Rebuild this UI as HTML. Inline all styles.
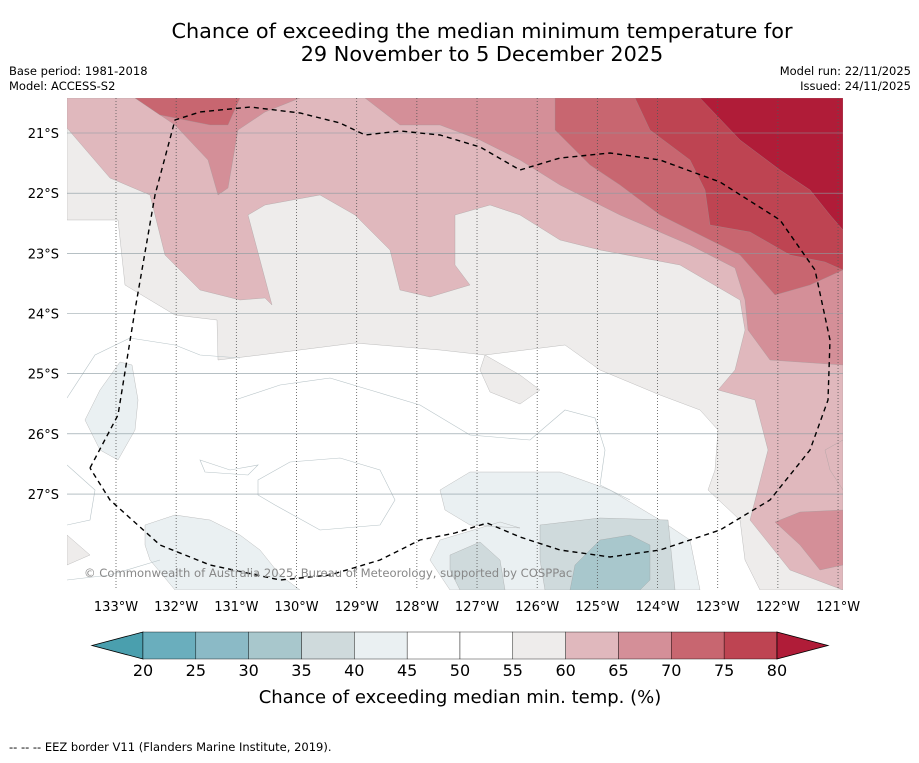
<!DOCTYPE html>
<html><head><meta charset="utf-8">
<style>
body{margin:0;background:#fff;font-family:"Liberation Sans","DejaVu Sans",sans-serif;}
svg text{font-family:"DejaVu Sans","Liberation Sans",sans-serif;}
</style></head>
<body>
<svg id="chart" width="919" height="758" viewBox="0 0 919 758" xmlns="http://www.w3.org/2000/svg">
<rect width="919" height="758" fill="#fff"/>
<text x="482" y="38" font-size="20.8" text-anchor="middle" fill="#000">Chance of exceeding the median minimum temperature for</text>
<text x="482" y="61" font-size="20.8" text-anchor="middle" fill="#000">29 November to 5 December 2025</text>
<text x="9" y="75" font-size="11.5">Base period: 1981-2018</text>
<text x="9" y="90" font-size="11.5">Model: ACCESS-S2</text>
<text x="911" y="75" font-size="11.5" text-anchor="end">Model run: 22/11/2025</text>
<text x="911" y="90" font-size="11.5" text-anchor="end">Issued: 24/11/2025</text>
<defs><clipPath id="mapclip"><rect x="67" y="98" width="776" height="492"/></clipPath></defs>
<g id="map" clip-path="url(#mapclip)">
<rect x="67" y="98" width="776" height="492" fill="#fff"/>
<g id="fills"></g>
<g id="lines" fill="none" stroke="#b8c4c8" stroke-width="0.6">
<path d="M67,398 L95,355 L130,338 L175,345 L200,355 L240,358"/>
<path d="M67,465 L95,490 L90,520 L67,525"/>
<path d="M235,400 L280,385 L330,378 L370,390 L420,405 L470,435 L530,440 L565,410 L595,418 L605,450 L600,485 L630,500"/>
<path d="M258,480 L290,462 L340,458 L380,470 L395,500 L380,525 L320,530 L275,505 L258,495 Z"/>
<path d="M200,460 L230,470 L258,465 L248,475 L205,472 Z"/>
<path d="M67,580 L110,575 L160,560"/>
</g>
<g id="grid"></g>
<path id="eez" fill="none" stroke="#000" stroke-width="1.4" stroke-dasharray="5,4"/>
<text x="84" y="577" font-size="11.6" fill="#888">© Commonwealth of Australia 2025, Bureau of Meteorology, supported by COSPPac</text>
</g>
<g id="axes"></g>
<g id="colorbar"></g>
<text x="460" y="703" font-size="18" text-anchor="middle">Chance of exceeding median min. temp. (%)</text>
<text x="9" y="751" font-size="11.5">--  --  -- EEZ border V11 (Flanders Marine Institute, 2019).</text>
</svg>
<script>
const lonTicks=[133,132,131,130,129,128,127,126,125,124,123,122,121];
const latTicks=[21,22,23,24,25,26,27];
const levels=[20,25,30,35,40,45,50,55,60,65,70,75,80];
const levelColors=["#4a9fae","#6aaebd","#8bbac6","#a8c7cc","#cfdadc","#eaf0f2","#ffffff","#ffffff","#eeeceb","#e0b8bd","#d48f98","#c86670","#be4452","#b01c38"];
const X=l=>116+(133-l)*60.17, Y=l=>133+(l-21)*60.17;
const NS="http://www.w3.org/2000/svg";
function mk(t,a,p){const e=document.createElementNS(NS,t);for(const k in a)e.setAttribute(k,a[k]);p.appendChild(e);return e;}
const contours=[
[8,"67,98 843,98 843,590 760,590 745,560 740,520 708,490 715,470 718,430 700,410 660,395 600,370 565,345 485,355 480,370 490,392 520,404 540,390 520,375 485,355 440,350 355,343 260,355 218,360 217,320 175,315 125,285 118,220 67,220"],
[8,"67,535 90,555 67,565"],
[9,"67,98 843,98 843,590 790,570 750,520 768,450 755,400 718,390 735,370 745,330 740,300 680,265 600,250 560,240 520,215 490,205 455,215 455,265 470,285 430,297 400,290 390,250 355,215 320,195 265,205 248,215 272,305 265,298 240,300 200,290 165,255 150,195 110,178 67,128"],
[9,"825,450 843,440 843,490 830,470"],
[10,"135,98 300,98 265,112 238,130 228,188 218,195 208,160 175,125"],
[10,"365,98 843,98 843,365 770,360 748,330 745,300 735,268 690,245 620,215 560,185 520,160 480,140 440,125 400,125"],
[10,"775,522 800,512 843,510 843,565 820,570 800,545"],
[11,"135,98 240,98 228,125 210,125 160,115"],
[11,"555,98 843,98 843,270 810,285 775,295 740,255 700,235 660,215 620,185 590,165 555,130"],
[12,"635,98 843,98 843,270 825,262 790,255 750,232 710,225 705,190 690,160 650,130"],
[13,"700,98 843,98 843,230 830,215 810,190 780,170 740,140"],
[5,"85,420 100,390 120,362 132,365 138,400 135,430 118,460 100,450"],
[5,"145,525 175,515 210,520 240,535 260,550 280,575 300,590 175,590 150,560 145,545"],
[5,"440,490 470,472 560,472 610,490 660,520 690,540 700,590 450,590 430,560 440,540 500,522 520,528 470,525 445,510"],
[4,"450,555 480,542 500,560 505,590 460,590 450,570"],
[4,"540,525 600,518 668,520 675,590 545,590 540,560"],
[3,"575,565 600,540 630,535 650,545 650,580 640,590 570,590"]
];
const fills=document.getElementById('fills');
contours.forEach((c,i)=>{const p=mk('polygon',{points:c[1],fill:levelColors[c[0]],stroke:"#999",'stroke-width':0.3},fills);

});
const grid=document.getElementById('grid');
lonTicks.forEach(l=>{const g=mk('line',{x1:X(l),x2:X(l),y1:98,y2:590,stroke:"#555",'stroke-width':0.8,'stroke-dasharray':"1,2"},grid);
});
latTicks.forEach(l=>{const g=mk('line',{x1:67,x2:843,y1:Y(l),y2:Y(l),stroke:"#8a9aa0",'stroke-width':0.6},grid);
});
const eez=[[90,468],[118,415],[135,310],[155,195],[175,120],[200,112],[250,107],[300,113],[340,123],[365,135],[400,131],[440,135],[480,147],[520,170],[560,158],[610,153],[660,160],[720,182],[780,220],[815,270],[830,340],[828,400],[810,450],[770,500],[720,530],[660,550],[610,557],[560,550],[520,537],[487,523],[455,533],[420,540],[380,560],[330,575],[280,580],[210,565],[160,545],[110,500],[90,468]];
document.getElementById('eez').setAttribute('d','M'+eez.map(p=>p.join(',')).join(' L'));
const axes=document.getElementById('axes');
lonTicks.forEach(l=>{const t=mk('text',{x:X(l),y:611,'font-size':13,'text-anchor':'middle'},axes);t.textContent=l+'°W';
});
latTicks.forEach(l=>{const t=mk('text',{x:59,y:Y(l)+5,'font-size':13,'text-anchor':'end'},axes);t.textContent=l+'°S';
});
const cb=document.getElementById('colorbar');
const bx0=143,bw=52.83,by=632,bh=27;
const a1=mk('polygon',{points:`92,${by+bh/2} ${bx0},${by} ${bx0},${by+bh}`,fill:levelColors[0],stroke:"#000",'stroke-width':0.8},cb);

for(let i=0;i<12;i++){const r=mk('rect',{x:bx0+i*bw,y:by,width:bw,height:bh,fill:levelColors[i+1],stroke:"#000",'stroke-width':0.4},cb);
}
const xe=bx0+12*bw;
const a2=mk('polygon',{points:`${xe},${by} 828,${by+bh/2} ${xe},${by+bh}`,fill:levelColors[13],stroke:"#000",'stroke-width':0.8},cb);

levels.forEach((v,i)=>{const t=mk('text',{x:bx0+i*bw,y:676,'font-size':16,'text-anchor':'middle'},cb);t.textContent=v;
});
</script>
</body></html>
